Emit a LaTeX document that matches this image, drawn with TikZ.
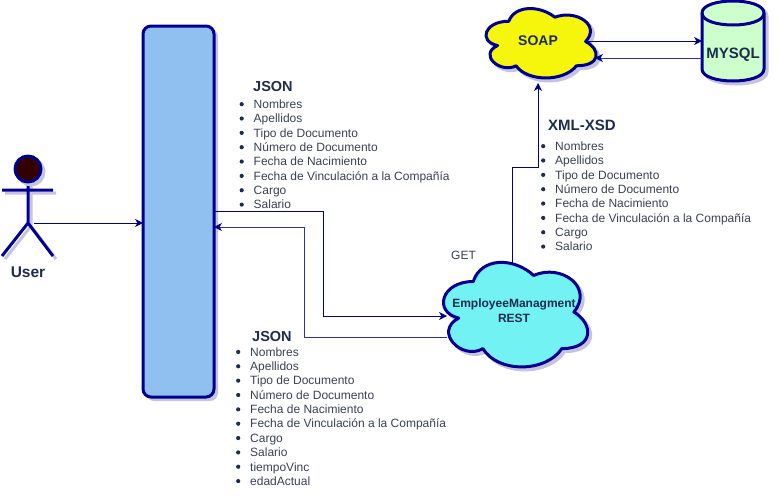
\documentclass[tikz,border=0pt]{standalone}
\usepackage{fontspec}
\setmainfont{Liberation Sans}
\usetikzlibrary{calc}
\usetikzlibrary{arrows.meta}
\definecolor{navyline}{HTML}{000090}
\definecolor{shadowc}{HTML}{C4C4DE}
\definecolor{backline}{HTML}{3030A0}
\definecolor{listtext}{HTML}{3A4252}
\definecolor{headtext}{HTML}{1E2C4E}
\definecolor{restfill}{HTML}{72F2F2}
\definecolor{soapfill}{HTML}{F6F60C}
\definecolor{frontfill}{HTML}{90C0F0}
\definecolor{mysqlfill}{HTML}{CCFFCC}
\definecolor{headfill}{HTML}{330000}
\newcommand{\cloudoutline}{(.25,.25) .. controls (.05,.25) and (0,.5) .. (.16,.55)
	.. controls (0,.66) and (.18,.9) .. (.31,.8)
	.. controls (.4,1) and (.7,1) .. (.8,.8)
	.. controls (1,.8) and (1,.6) .. (.875,.5)
	.. controls (1,.3) and (.8,.1) .. (.625,.2)
	.. controls (.5,.05) and (.3,.05) .. (.25,.25) -- cycle}
% x, y, w, h, fill
\newcommand{\drawcloud}[5]{
	\begin{scope}[shift={(#1+3,#2+3)},x=#3pt,y=-#4pt]
		\fill[shadowc] \cloudoutline;
		\draw[shadowc,line width=3pt] \cloudoutline;
	\end{scope}
	\begin{scope}[shift={(#1,#2)},x=#3pt,y=-#4pt]
		\draw[shape line,fill=#5] \cloudoutline;
	\end{scope}
}
\newcommand{\actorlines}{
	(28,182) -- (28,223) (2,190) -- (53,190) (2,256) -- (28,223) -- (53,256)
}
\newcommand{\mysqloutline}{
	(702,13) -- (702,69) .. controls (702,85) and (764,85) .. (764,69) -- (764,13)
	.. controls (764,-3) and (702,-3) .. (702,13) -- cycle
}
\tikzset{
	shape line/.style={draw=navyline,line width=3pt,line join=round},
	link/.style={draw=navyline,line width=.9pt,-{Stealth[length=8pt,width=8pt,inset=2.5pt]}},
	backlink/.style={link,draw=backline,-{Stealth[length=8pt,width=8pt,inset=2.5pt,color=navyline]}},
	heading/.style={font=\fontsize{14.5}{14.5}\selectfont\bfseries,text=headtext,inner sep=0pt,anchor=west},
	boxlabel/.style={font=\fontsize{12}{15}\selectfont\bfseries,text=headtext,inner sep=0pt,align=center},
	plainitem/.style={font=\fontsize{12}{12}\selectfont,text=listtext,inner sep=0pt,anchor=west,
		text height=9pt,text depth=2.5pt},
	listitem/.style={plainitem,
		label={[circle,fill=headtext,minimum size=4.2pt,inner sep=0pt,xshift=-9.5pt,yshift=1pt]left:{}}},
}
\begin{document}
\begin{tikzpicture}[x=1pt,y=-1pt]
	\useasboundingbox[fill=white] (0,0) rectangle (784,501);

	% user
	\draw[shadowc,line width=3pt,shift={(3,3)}] \actorlines;
	\draw[shape line] \actorlines;
	\draw[shadowc,line width=3pt,fill=shadowc] (31,172) circle (13);
	\draw[shape line,fill=headfill] (28,169) circle (13);
	\node[heading,anchor=center,font=\fontsize{15.5}{15.5}\selectfont\bfseries] (user) at (28,272) {User};

	% front end
	\fill[shadowc,rounded corners=8pt] (146,29) rectangle (218,401);
	\draw[shape line,fill=frontfill,rounded corners=8pt] (143,26) rectangle (214,397);
	\coordinate (frontin) at (143,223);
	\coordinate (frontout) at (214,211);
	\coordinate (frontback) at (214,227);
	\coordinate (userhand) at (34,223);

	% clouds and database
	\drawcloud{433}{251}{161}{122}{restfill}
	\drawcloud{478}{1}{123}{81}{soapfill}
	\node[boxlabel] (rest) at (514,311) {EmployeeManagment\\REST};
	\node[boxlabel,font=\fontsize{14}{14}\selectfont\bfseries] (soap) at (538,41) {SOAP};

	\begin{scope}[shift={(3,3)}]
		\fill[shadowc] \mysqloutline;
		\draw[shadowc,line width=3pt] \mysqloutline;
	\end{scope}
	\draw[shape line,fill=mysqlfill] \mysqloutline;
	\draw[shape line] (702,13) .. controls (702,29) and (764,29) .. (764,13);
	\node[boxlabel,font=\fontsize{15}{15}\selectfont\bfseries] (mysql) at (733,55) {MYSQL};

	% connectors
	\coordinate (restin) at (447,316);
	\coordinate (restout) at (447,337);
	\coordinate (resttop) at (512,263);
	\coordinate (soapbelow) at (538,83);
	\coordinate (soapout) at (588,41);
	\coordinate (soapin) at (595,58);
	\coordinate (mysqlin) at (702,41);
	\coordinate (mysqlout) at (702,58);
	\draw[link] (userhand) -- (frontin);
	\draw[link] (frontout) -- (323,211) -- (323,316) -- (restin);
	\draw[backlink] (restout) -- (304,337) -- (304,227) -- (frontback);
	\draw[link] (resttop) -- (512,167) -- (538,167) -- (soapbelow);
	\draw[link] (soapout) -- (mysqlin);
	\draw[backlink] (mysqlout) -- (soapin);

	% lists
	\node[heading] (jsonreq) at (253,87) {JSON};
	\foreach \txt [count=\i] in {Nombres,Apellidos,Tipo de Documento,Número de Documento,Fecha de Nacimiento,Fecha de Vinculación a la Compañía,Cargo,Salario}
		\node[listitem] (reqitem\i) at (253.5,{90.8+14.35*\i}) {\txt};

	\node[heading] (jsonres) at (252,337) {JSON};
	\foreach \txt [count=\i] in {Nombres,Apellidos,Tipo de Documento,Número de Documento,Fecha de Nacimiento,Fecha de Vinculación a la Compañía,Cargo,Salario,tiempoVinc,edadActual}
		\node[listitem] (resitem\i) at (250,{338.6+14.35*\i}) {\txt};

	\node[heading,font=\fontsize{15}{15}\selectfont\bfseries] (xmlhead) at (548,125) {XML-XSD};
	\foreach \txt [count=\i] in {Nombres,Apellidos,Tipo de Documento,Número de Documento,Fecha de Nacimiento,Fecha de Vinculación a la Compañía,Cargo,Salario}
		\node[listitem] (xmlitem\i) at (555,{132.8+14.35*\i}) {\txt};

	\node[plainitem] (get) at (451,256) {GET};
\end{tikzpicture}
\end{document}
